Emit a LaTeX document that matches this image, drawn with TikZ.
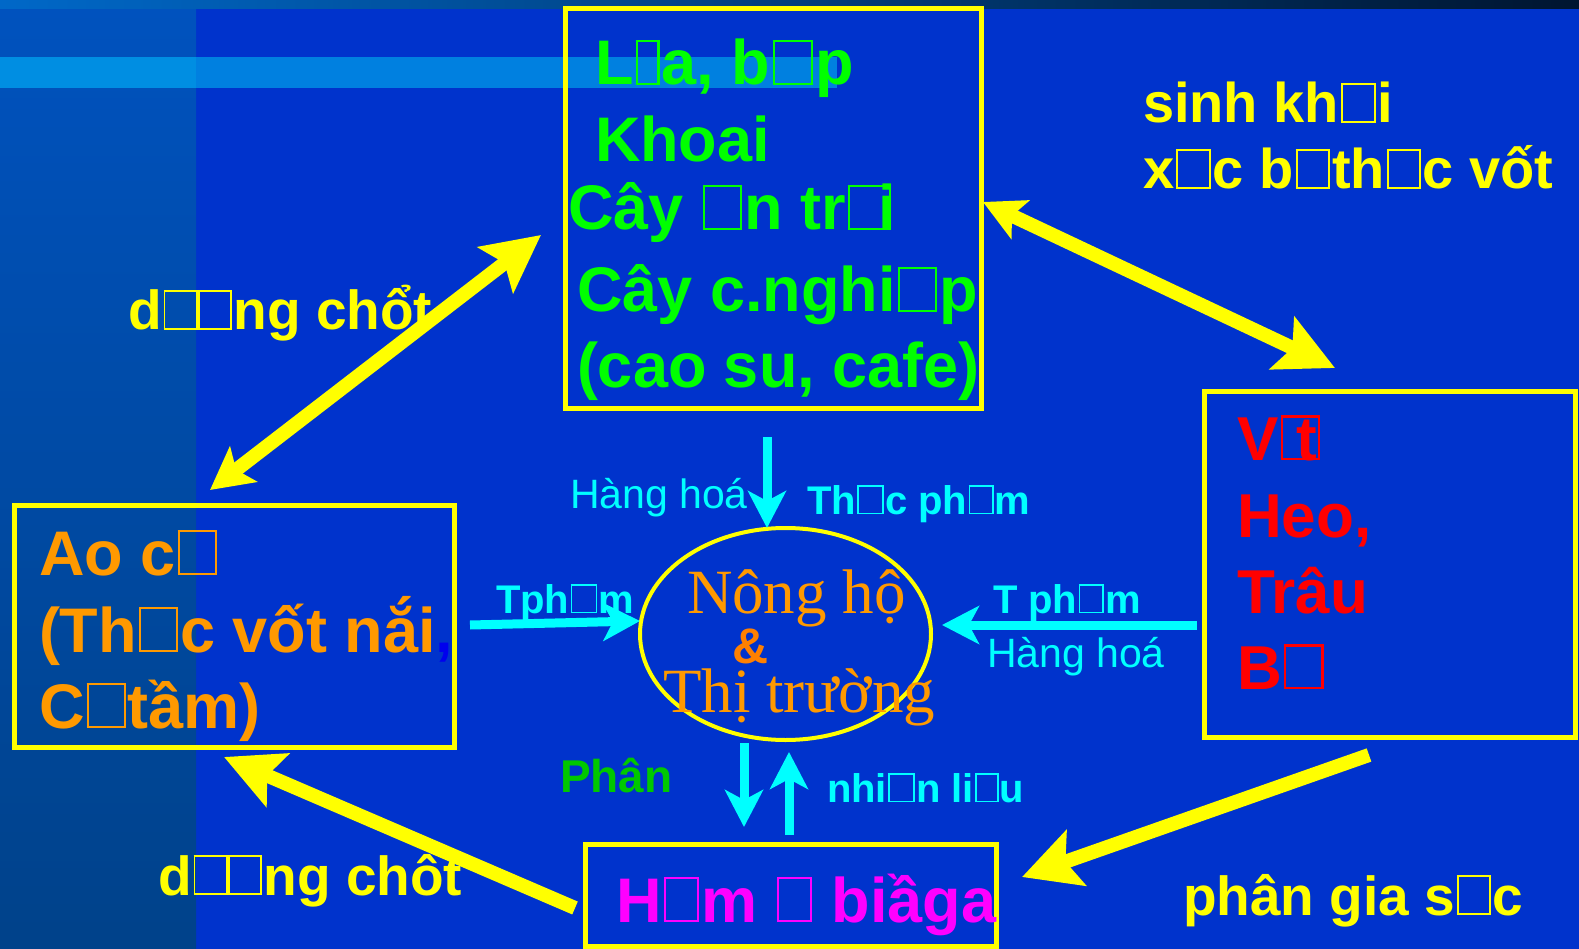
\documentclass[tikz,border=0pt]{standalone}
\usepackage{fontspec}
\setmainfont{Liberation Sans}
\newfontfamily\seriff{Liberation Serif}
\usetikzlibrary{arrows.meta,shapes.geometric}
\definecolor{bgblue}{HTML}{0033CC}
\definecolor{stripTop}{HTML}{0052BE}
\definecolor{stripBot}{HTML}{00428A}
\definecolor{bandA}{HTML}{008EE2}
\definecolor{bandB}{HTML}{0080E0}
\definecolor{barL}{HTML}{0068C8}
\definecolor{barM}{HTML}{0056A8}
\definecolor{barR}{HTML}{001530}
\definecolor{yel}{HTML}{FFFF00}
\definecolor{tgreen}{HTML}{00FF00}
\definecolor{tgreenD}{HTML}{00C800}
\definecolor{tcyan}{HTML}{00FFFF}
\definecolor{tred}{HTML}{FF0000}
\definecolor{torange}{HTML}{FF9900}
\definecolor{tamp}{HTML}{FF8000}
\definecolor{tmag}{HTML}{FF00FF}
\definecolor{tcomma}{HTML}{0000EE}
% missing-glyph box as the reference shows it
\newcommand\bx[1][0.56]{\kern0.035em\raisebox{0.035em}{\fboxsep=0pt\fboxrule=0.035em\fbox{\rule{0pt}{0.65em}\rule{\dimexpr#1em-0.07em\relax}{0pt}}}\kern0.035em}
\newcommand\fs[1]{\fontsize{#1}{#1}\selectfont}
\tikzset{
  ybox/.style={draw=yel, line width=5pt, rectangle, inner sep=0pt},
  lbl/.style={anchor=base west, inner sep=0pt, outer sep=0pt},
  yarrow/.style={draw=yel, fill=yel, line width=14pt},
  carrow/.style={draw=tcyan, line width=9pt, -{Stealth[length=37pt,width=38pt,inset=10pt]}},
  gtxt/.style={lbl, text=tgreen, font=\bfseries\fs{63}},
  otxt/.style={lbl, text=torange, font=\bfseries\fs{63}},
  rtxt/.style={lbl, text=tred, font=\bfseries\fs{62}},
  ytxt/.style={lbl, text=yel, font=\bfseries\fs{55}},
  ctxtb/.style={lbl, text=tcyan, font=\bfseries\fs{40}},
  ctxt/.style={lbl, text=tcyan, font=\fs{41}},
}
\begin{document}
\begin{tikzpicture}[x=1pt,y=-1pt]
\useasboundingbox (0,0) rectangle (1579,949);
% background
\fill[bgblue] (0,0) rectangle (1579,949);
\shade[top color=stripTop, bottom color=stripBot] (0,9) rectangle (196,949);
\fill[bandA] (0,57) rectangle (196,88);
\fill[bandB] (196,57) rectangle (837,88);
\shade[left color=barL, middle color=barM, right color=barR] (0,0) rectangle (1579,9);

% boxes
\node[ybox, minimum width=416pt, minimum height=399pt] (crop) at (773,208.5) {};
\node[ybox, minimum width=371pt, minimum height=346pt] (live) at (1389.5,564) {};
\node[ybox, minimum width=440pt, minimum height=242pt] (pond) at (234,626) {};
\node[ybox, minimum width=411pt, minimum height=102pt] (bio) at (791,895) {};
\node[draw=yel, line width=4pt, ellipse, minimum width=291pt, minimum height=212pt, inner sep=0pt] (mkt) at (785.5,634) {};

% yellow arrows
\coordinate (a1) at (210,490); \coordinate (a2) at (541,235);
\draw[yarrow, {Stealth[length=42pt,width=44pt,inset=9pt]}-{Stealth[length=57pt,width=57pt,inset=11pt]}] (a1) -- (a2);
\coordinate (b1) at (983,202); \coordinate (b2) at (1335,368);
\draw[yarrow, {Stealth[length=41pt,width=42pt,inset=9pt]}-{Stealth[length=58pt,width=57pt,inset=11pt]}] (b1) -- (b2);
\coordinate (c1) at (1369,755); \coordinate (c2) at (1022,877);
\draw[yarrow, -{Stealth[length=57pt,width=58pt,inset=11pt]}] (c1) -- (c2);
\coordinate (d1) at (575,908); \coordinate (d2) at (224,757);
\draw[yarrow, -{Stealth[length=58pt,width=57pt,inset=11pt]}] (d1) -- (d2);

% cyan arrows
\coordinate (e1) at (767,437); \coordinate (e2) at (767,528);
\draw[carrow] (e1) -- (e2);
\coordinate (f1) at (470,625); \coordinate (f2) at (640,621);
\draw[carrow] (f1) -- (f2);
\coordinate (g1) at (1197,625); \coordinate (g2) at (942,625);
\draw[carrow] (g1) -- (g2);
\coordinate (h1) at (744,743); \coordinate (h2) at (744,827);
\draw[carrow] (h1) -- (h2);
\coordinate (k1) at (789,835); \coordinate (k2) at (789,752);
\draw[carrow] (k1) -- (k2);

% crop box text
\node[gtxt] (t1) at (595,85) {L\bx[0.38]a, b\bx[0.64]p};
\node[gtxt] (t2) at (595,162) {Khoai};
\node[gtxt] (t3) at (568,230) {Cây \bx[0.62]n tr\bx[0.68]\kern-0.24em i};
\node[gtxt] (t4) at (577,312) {Cây c.nghi\bx[0.62]p};
\node[gtxt] (t5) at (577,387) {(cao su, cafe)};

% livestock box text
\node[rtxt] (r1) at (1237,460) {V\bx[0.64]\kern-0.42em t};
\node[rtxt] (r2) at (1237,537) {Heo,};
\node[rtxt] (r3) at (1237,613) {Trâu};
\node[rtxt] (r4) at (1237,689) {B\bx[0.64]};

% pond box text
\node[otxt] (p1) at (39,575) {Ao c\bx[0.62]};
\node[otxt] (p2) at (39,652) {(Th\bx[0.62]c vốt nắi\textcolor{tcomma}{,}};
\node[otxt] (p3) at (39,728) {C\bx[0.62]tầm)};

% biogas
\node[lbl, text=tmag, font=\bfseries\fs{63}] (m1) at (616,922) {H\bx m \bx{} biầga};

% market
\node[lbl, text=torange, font=\seriff\fs{63}] (n1) at (687,613) {Nông hộ};
\node[lbl, text=tamp, font=\bfseries\fs{50}] (n2) at (732,663) {\&};
\node[lbl, text=torange, font=\seriff\fs{63}] (n3) at (663,712) {Thị trường};

% cyan labels
\node[ctxt] (c1l) at (570,508) {Hàng hoá};
\node[ctxtb] (c2l) at (807,514) {Th\bx[0.66]c ph\bx[0.62]m};
\node[ctxtb] (c3l) at (496,613) {Tph\bx[0.66]m};
\node[ctxtb] (c4l) at (993,613) {T ph\bx[0.62]m};
\node[ctxt] (c5l) at (987,667) {Hàng hoá};
\node[lbl, text=tcyan, font=\bfseries\fs{40}] (c6l) at (827,802) {nhi\bx[0.66]n li\bx[0.58]u};
\node[lbl, text=tgreenD, font=\bfseries\fs{46}] (ph) at (560,792) {Phân};

% yellow labels
\node[ytxt, font=\bfseries\fs{56}] (y1) at (1143,123) {sinh kh\bx[0.62]i};
\node[ytxt, font=\bfseries\fs{56}] (y2) at (1143,189) {x\bx[0.62]c b\bx[0.62]th\bx[0.6]c vốt};
\node[ytxt] (y3) at (128,330) {d\bx[0.62]\kern-0.07em\bx[0.62]ng chổt};
\node[ytxt] (y4) at (158,895) {d\bx[0.62]\kern-0.07em\bx[0.62]ng chôt};
\node[ytxt] (y5) at (1183,915) {phân gia s\bx[0.62]c};
\end{tikzpicture}
\end{document}
